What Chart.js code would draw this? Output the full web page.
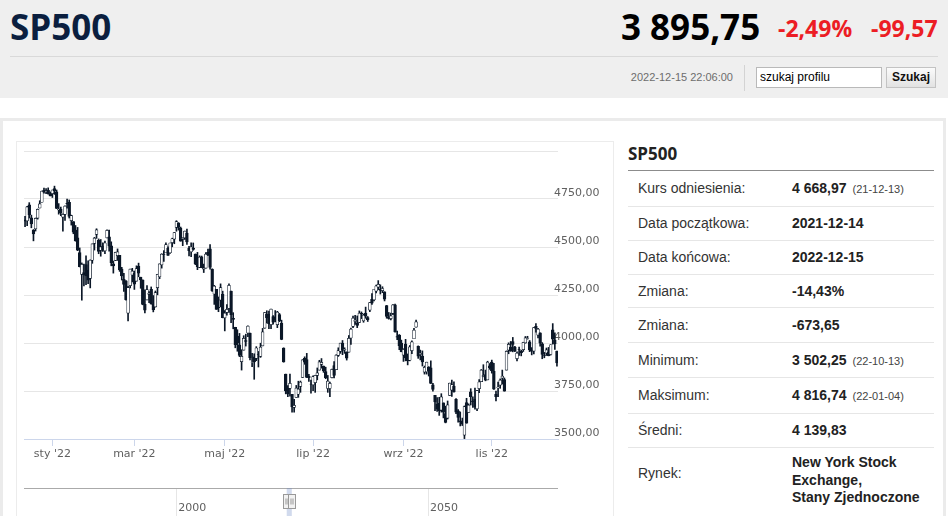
<!DOCTYPE html>
<html lang="pl">
<head>
<meta charset="utf-8">
<title>SP500</title>
<script src="https://cdn.jsdelivr.net/npm/chart.js@4.4.1/dist/chart.umd.min.js"></script>
<style>
  body { margin: 0; width: 948px; height: 516px; overflow: hidden; background: #fff; position: relative;
         font-family: "Liberation Sans", Arial, sans-serif; }
  .abs { position: absolute; }
  #top { left: 0; top: 0; width: 948px; height: 98px; background: #efefef; }
  #title { left: 10px; top: 7px; line-height: 40px; font: 700 35px/40px "Open Sans"; color: #0b1f3f; }
  #hr1 { left: 10px; top: 56px; width: 928px; height: 1px; background: #d9d9d9; }
  #price { left: 621px; top: 7px; font: 700 35px/40px "Open Sans"; color: #000; }
  .chg { top: 13px; font: 700 23px/30px "Open Sans"; color: #ec1d24; }
  #stamp { left: 600px; width: 133px; text-align: right; top: 70px; font-size: 11px; line-height: 14px; color: #6d6d6d; }
  #sep { left: 744px; top: 65px; width: 1px; height: 26px; background: #d3d3d3; }
  #search { left: 756px; top: 67px; width: 121px; height: 19px; border: 1px solid #b9b9b9; background: #fff;
            font-size: 12px; line-height: 19px; padding-left: 3px; color: #000; }
  #btn { left: 886px; top: 67px; width: 48px; height: 19px; border: 1px solid #c3c3c3;
         background: linear-gradient(#fbfbfb, #e2e2e2); font-weight: 700; font-size: 12px; line-height: 19px;
         text-align: center; color: #111; }
  #card { left: 0; top: 118px; width: 940px; height: 400px; border: 3px solid #ebebeb; }
  #panel { left: 16px; top: 141px; width: 596px; height: 380px; border: 1px solid #ececec; }
  #mainWrap { left: 17px; top: 142px; width: 595px; height: 330px; }
  #navWrap { left: 17px; top: 472px; width: 595px; height: 44px; }
  #side { left: 628px; top: 141px; width: 306px; }
  #sideTitle { left: 0; top: 0; font: 700 17px/26px "Open Sans"; color: #222; }
  #sideLine { left: 0; top: 29px; width: 306px; height: 1px; background: #8c8c8c; }
  .row { left: 0; width: 306px; border-bottom: 1px solid #e6e6e6; font-size: 14px; color: #333; }
  .row .lab { position: absolute; left: 10px; }
  .row .val { position: absolute; left: 164px; font-weight: 700; color: #222; }
  .row .note { font-weight: 400; font-size: 11px; color: #444; margin-left: 6px; }
</style>
</head>
<body>
<div id="top" class="abs"></div>
<div id="title" class="abs">SP500</div>
<div id="hr1" class="abs"></div>
<div id="price" class="abs">3 895,75</div>
<div class="abs chg" style="left:778px">-2,49%</div>
<div class="abs chg" style="left:871px">-99,57</div>
<div id="stamp" class="abs">2022-12-15 22:06:00</div>
<div id="sep" class="abs"></div>
<div id="search" class="abs">szukaj profilu</div>
<div id="btn" class="abs">Szukaj</div>

<div id="card" class="abs"></div>
<div id="panel" class="abs"></div>
<div id="mainWrap" class="abs"><canvas id="mainChart"></canvas></div>
<div id="navWrap" class="abs"><canvas id="navChart"></canvas></div>

<div id="side" class="abs">
  <div id="sideTitle" class="abs">SP500</div>
  <div id="sideLine" class="abs"></div>
  <div class="abs row" style="top:30px;height:35px;line-height:35px"><span class="lab">Kurs odniesienia:</span><span class="val">4 668,97<span class="note">(21-12-13)</span></span></div>
  <div class="abs row" style="top:66px;height:33px;line-height:33px"><span class="lab">Data początkowa:</span><span class="val">2021-12-14</span></div>
  <div class="abs row" style="top:100px;height:33px;line-height:33px"><span class="lab">Data końcowa:</span><span class="val">2022-12-15</span></div>
  <div class="abs row" style="top:134px;height:32px;line-height:32px"><span class="lab">Zmiana:</span><span class="val">-14,43%</span></div>
  <div class="abs row" style="top:167px;height:34px;line-height:34px"><span class="lab">Zmiana:</span><span class="val">-673,65</span></div>
  <div class="abs row" style="top:202px;height:34px;line-height:34px"><span class="lab">Minimum:</span><span class="val">3 502,25<span class="note">(22-10-13)</span></span></div>
  <div class="abs row" style="top:237px;height:35px;line-height:35px"><span class="lab">Maksimum:</span><span class="val">4 816,74<span class="note">(22-01-04)</span></span></div>
  <div class="abs row" style="top:273px;height:33px;line-height:33px"><span class="lab">Średni:</span><span class="val">4 139,83</span></div>
  <div class="abs row" style="top:307px;height:60px;border-bottom:none"><span class="lab" style="top:15px;line-height:20px">Rynek:</span><span class="val" style="top:6px;line-height:17.5px">New York Stock<br>Exchange,<br>Stany Zjednoczone</span></div>
</div>

<script>
// trading days (sesje) 2021-12-14 .. 2022-12-15
const tradingDays = [
  '2021-12-14','2021-12-15','2021-12-16','2021-12-17','2021-12-20','2021-12-21','2021-12-22','2021-12-23','2021-12-27','2021-12-28','2021-12-29','2021-12-30','2021-12-31',
  '2022-01-03','2022-01-04','2022-01-05','2022-01-06','2022-01-07','2022-01-10','2022-01-11','2022-01-12','2022-01-13','2022-01-14','2022-01-18','2022-01-19','2022-01-20','2022-01-21','2022-01-24','2022-01-25','2022-01-26','2022-01-27','2022-01-28','2022-01-31',
  '2022-02-01','2022-02-02','2022-02-03','2022-02-04','2022-02-07','2022-02-08','2022-02-09','2022-02-10','2022-02-11','2022-02-14','2022-02-15','2022-02-16','2022-02-17','2022-02-18','2022-02-22','2022-02-23','2022-02-24','2022-02-25','2022-02-28',
  '2022-03-01','2022-03-02','2022-03-03','2022-03-04','2022-03-07','2022-03-08','2022-03-09','2022-03-10','2022-03-11','2022-03-14','2022-03-15','2022-03-16','2022-03-17','2022-03-18','2022-03-21','2022-03-22','2022-03-23','2022-03-24','2022-03-25','2022-03-28','2022-03-29','2022-03-30','2022-03-31',
  '2022-04-01','2022-04-04','2022-04-05','2022-04-06','2022-04-07','2022-04-08','2022-04-11','2022-04-12','2022-04-13','2022-04-14','2022-04-18','2022-04-19','2022-04-20','2022-04-21','2022-04-22','2022-04-25','2022-04-26','2022-04-27','2022-04-28','2022-04-29',
  '2022-05-02','2022-05-03','2022-05-04','2022-05-05','2022-05-06','2022-05-09','2022-05-10','2022-05-11','2022-05-12','2022-05-13','2022-05-16','2022-05-17','2022-05-18','2022-05-19','2022-05-20','2022-05-23','2022-05-24','2022-05-25','2022-05-26','2022-05-27','2022-05-31',
  '2022-06-01','2022-06-02','2022-06-03','2022-06-06','2022-06-07','2022-06-08','2022-06-09','2022-06-10','2022-06-13','2022-06-14','2022-06-15','2022-06-16','2022-06-17','2022-06-21','2022-06-22','2022-06-23','2022-06-24','2022-06-27','2022-06-28','2022-06-29','2022-06-30',
  '2022-07-01','2022-07-05','2022-07-06','2022-07-07','2022-07-08','2022-07-11','2022-07-12','2022-07-13','2022-07-14','2022-07-15','2022-07-18','2022-07-19','2022-07-20','2022-07-21','2022-07-22','2022-07-25','2022-07-26','2022-07-27','2022-07-28','2022-07-29',
  '2022-08-01','2022-08-02','2022-08-03','2022-08-04','2022-08-05','2022-08-08','2022-08-09','2022-08-10','2022-08-11','2022-08-12','2022-08-15','2022-08-16','2022-08-17','2022-08-18','2022-08-19','2022-08-22','2022-08-23','2022-08-24','2022-08-25','2022-08-26','2022-08-29','2022-08-30','2022-08-31',
  '2022-09-01','2022-09-02','2022-09-06','2022-09-07','2022-09-08','2022-09-09','2022-09-12','2022-09-13','2022-09-14','2022-09-15','2022-09-16','2022-09-19','2022-09-20','2022-09-21','2022-09-22','2022-09-23','2022-09-26','2022-09-27','2022-09-28','2022-09-29','2022-09-30',
  '2022-10-03','2022-10-04','2022-10-05','2022-10-06','2022-10-07','2022-10-10','2022-10-11','2022-10-12','2022-10-13','2022-10-14','2022-10-17','2022-10-18','2022-10-19','2022-10-20','2022-10-21','2022-10-24','2022-10-25','2022-10-26','2022-10-27','2022-10-28','2022-10-31',
  '2022-11-01','2022-11-02','2022-11-03','2022-11-04','2022-11-07','2022-11-08','2022-11-09','2022-11-10','2022-11-11','2022-11-14','2022-11-15','2022-11-16','2022-11-17','2022-11-18','2022-11-21','2022-11-22','2022-11-23','2022-11-25','2022-11-28','2022-11-29','2022-11-30',
  '2022-12-01','2022-12-02','2022-12-05','2022-12-06','2022-12-07','2022-12-08','2022-12-09','2022-12-12','2022-12-13','2022-12-14','2022-12-15'
];

const opens = [
  4642,4636,4719,4652,4587,4595,4650,4703,4733,4795,4788,4795,4775,
  4778,4804,4787,4693,4698,4655,4670,4728,4733,4637,4632,4588,4548,4471,4357,4367,4409,4380,4337,4431,
  4519,4566,4535,4482,4505,4480,4547,4553,4506,4412,4430,4455,4456,4385,4332,4324,4156,4299,4354,
  4364,4322,4401,4342,4328,4202,4224,4253,4279,4202,4188,4288,4345,4407,4462,4470,4493,4470,4523,4541,4602,4624,4599,
  4540,4547,4573,4495,4474,4494,4462,4437,4394,4449,4385,4390,4472,4490,4385,4255,4279,4186,4223,4253,
  4131,4159,4181,4271,4129,4081,4035,3991,3903,3963,4013,4052,4052,3900,3928,3920,3942,3930,3985,4077,4151,
  4149,4096,4137,4135,4096,4148,4102,3974,3838,3764,3764,3733,3665,3716,3733,3774,3821,3920,3913,3826,3786,
  3782,3793,3831,3859,3889,3880,3851,3763,3763,3820,3883,3861,3935,3956,4000,3965,3953,3952,4026,4087,
  4112,4104,4107,4154,4115,4156,4133,4171,4227,4225,4270,4291,4281,4273,4267,4195,4134,4127,4154,4199,4034,4041,4000,
  3937,3995,3930,3910,3960,4022,4083,3983,3941,3932,3848,3849,3875,3871,3782,3727,3682,3686,3651,3688,3633,
  3609,3727,3754,3776,3707,3647,3595,3590,3520,3690,3638,3746,3697,3707,3657,3762,3799,3825,3835,3808,3881,
  3901,3853,3733,3767,3780,3817,3810,3859,3963,3978,4007,3977,3919,3966,3956,3965,4001,4024,4006,3964,3958,
  4087,4041,4053,3996,3934,3947,3954,3940,4069,4015,3958
];
const highs = [
  4660,4712,4731,4666,4591,4651,4698,4741,4791,4807,4804,4808,4787,
  4797,4817,4797,4726,4708,4673,4714,4749,4745,4666,4632,4612,4602,4495,4417,4411,4454,4428,4433,4516,
  4550,4595,4542,4539,4522,4531,4590,4588,4527,4427,4473,4490,4456,4394,4363,4325,4295,4385,4389,
  4375,4402,4416,4343,4329,4277,4299,4268,4292,4247,4271,4358,4412,4465,4481,4522,4501,4521,4546,4575,4637,4627,4604,
  4548,4583,4593,4504,4522,4521,4464,4472,4454,4453,4411,4471,4489,4512,4386,4300,4279,4240,4308,4270,
  4169,4200,4308,4271,4158,4082,4069,4050,3965,4038,4046,4090,4052,3946,3944,3981,3956,3999,4076,4158,4168,
  4166,4177,4143,4169,4165,4154,4119,3975,3838,3778,3838,3733,3707,3779,3801,3802,3913,3928,3946,3837,3807,
  3829,3832,3870,3910,3919,3880,3874,3831,3797,3864,3903,3939,3975,3999,4013,3975,3954,4039,4078,4140,
  4144,4141,4167,4162,4151,4187,4138,4211,4258,4280,4302,4325,4303,4293,4267,4196,4159,4156,4200,4203,4062,4044,4015,
  3970,4019,3943,3987,4011,4076,4119,3985,3963,3959,3880,3900,3877,3907,3790,3727,3716,3717,3736,3688,3671,
  3698,3791,3807,3798,3711,3653,3641,3609,3672,3712,3683,3762,3720,3765,3753,3810,3862,3887,3859,3905,3893,
  3911,3894,3750,3796,3813,3859,3818,3959,4001,4008,4029,3983,3954,3979,3962,4004,4034,4035,4013,3976,4080,
  4101,4077,4053,4002,3951,3974,3977,3991,4101,4053,3958
];
const lows = [
  4606,4611,4651,4600,4532,4583,4645,4703,4733,4780,4778,4775,4766,
  4758,4774,4700,4671,4663,4582,4638,4702,4651,4614,4569,4530,4481,4396,4223,4297,4304,4309,4287,4415,
  4484,4545,4465,4452,4477,4465,4547,4478,4402,4364,4429,4430,4373,4328,4268,4223,4115,4287,4318,
  4279,4322,4345,4285,4199,4157,4224,4210,4202,4162,4187,4251,4335,4390,4425,4470,4456,4466,4501,4517,4582,4588,4530,
  4507,4539,4514,4453,4450,4483,4408,4382,4392,4392,4367,4390,4455,4385,4268,4201,4175,4163,4188,4131,
  4063,4145,4159,4106,4074,3975,3957,3929,3859,3963,3984,4033,3912,3877,3811,3908,3875,3925,3985,4077,4104,
  4074,4074,4098,4110,4080,4111,4017,3900,3735,3721,3723,3640,3640,3716,3717,3743,3821,3889,3820,3800,3739,
  3752,3743,3808,3859,3869,3847,3814,3743,3721,3818,3818,3861,3930,3946,3939,3946,3911,3952,3993,4080,
  4097,4080,4107,4127,4108,4129,4112,4163,4201,4219,4261,4278,4255,4262,4219,4129,4124,4120,4147,4057,4017,3965,3954,
  3904,3907,3886,3907,3945,4022,4083,3920,3912,3880,3838,3838,3828,3789,3749,3648,3644,3623,3640,3610,3584,
  3604,3727,3722,3744,3632,3588,3568,3570,3502,3582,3638,3677,3664,3656,3647,3741,3799,3824,3803,3808,3863,
  3843,3758,3698,3721,3764,3786,3749,3859,3944,3957,3954,3955,3907,3935,3933,3956,3999,4020,3955,3938,3943,
  4056,4026,3984,3918,3923,3935,3933,3937,3994,3966,3879
];
const closes = [
  4634,4709,4668,4620,4568,4649,4696,4725,4791,4786,4793,4778,4766,
  4797,4794,4701,4696,4677,4670,4713,4726,4659,4663,4577,4533,4483,4398,4410,4356,4350,4327,4432,4516,
  4546,4589,4477,4501,4484,4521,4587,4504,4419,4401,4472,4475,4380,4349,4305,4226,4288,4385,4374,
  4306,4387,4364,4329,4201,4171,4278,4260,4204,4173,4262,4358,4412,4463,4461,4512,4456,4521,4543,4575,4632,4602,4530,
  4546,4583,4526,4481,4500,4488,4413,4397,4447,4392,4391,4463,4459,4394,4272,4296,4175,4183,4288,4132,
  4155,4175,4300,4147,4123,3991,4001,3935,3930,4024,4008,4088,3923,3901,3901,3974,3941,3979,4058,4158,4132,
  4101,4177,4109,4121,4161,4116,4018,3901,3750,3735,3790,3667,3675,3765,3760,3796,3912,3900,3821,3819,3785,
  3825,3831,3845,3902,3899,3855,3819,3802,3790,3863,3831,3937,3960,3999,3962,3967,3921,4024,4072,4130,
  4119,4091,4155,4152,4145,4140,4122,4210,4207,4280,4297,4305,4274,4284,4228,4138,4128,4141,4199,4058,4031,3986,3955,
  3967,3924,3908,3980,4006,4067,4110,3932,3946,3901,3873,3900,3856,3790,3758,3693,3655,3647,3719,3640,3586,
  3678,3791,3783,3745,3640,3612,3589,3577,3669,3583,3677,3720,3695,3666,3752,3797,3859,3831,3807,3901,3872,
  3856,3759,3720,3771,3807,3828,3749,3957,3993,3957,3992,3959,3947,3965,3950,4003,4027,4026,3964,3958,4080,
  4076,4072,3999,3941,3933,3964,3934,3991,4020,3995,3896
];

// x axis month ticks
const tickDates = ['2022-01-03', '2022-03-01', '2022-05-02', '2022-07-01', '2022-09-01', '2022-11-01'];
const tickLabels = ["sty '22", "mar '22", "maj '22", "lip '22", "wrz '22", "lis '22"];
// y axis
const yTicks = [3500, 3750, 4000, 4250, 4500, 4750, 5000];
// navigator
const navYears = [2000, 2050];
const navRange = [2021.95, 2022.96];

const DARK = '#0b1727';
const AXIS_FONT = { family: 'DejaVu Sans', size: 11 };

const bodies = tradingDays.map((d, i) => [opens[i], closes[i]]);
const wicks = tradingDays.map((d, i) => [lows[i], highs[i]]);
const fills = tradingDays.map((d, i) => closes[i] >= opens[i] ? '#ffffff' : DARK);

const fmtPrice = v => v.toFixed(2).replace('.', ',');

new Chart(document.getElementById('mainChart'), {
  type: 'bar',
  data: {
    labels: tradingDays,
    datasets: [
      { // candle bodies (drawn on top)
        data: bodies,
        backgroundColor: fills,
        borderColor: DARK,
        borderWidth: 0.7,
        borderSkipped: false,
        barThickness: 2.8,
        grouped: false
      },
      { // wicks
        data: wicks,
        backgroundColor: DARK,
        barThickness: 1,
        grouped: false
      }
    ]
  },
  options: {
    responsive: true,
    maintainAspectRatio: false,
    animation: false,
    layout: { padding: { left: 7, top: 9, right: 0, bottom: 0 } },
    plugins: { legend: { display: false }, tooltip: { enabled: false } },
    scales: {
      x: {
        offset: true,
        grid: {
          offset: false,
          drawOnChartArea: false,
          tickLength: 7,
          color: ctx => tickDates.includes(tradingDays[ctx.index]) ? '#ccd6eb' : 'rgba(0,0,0,0)'
        },
        border: { color: '#ccd6eb' },
        ticks: {
          autoSkip: false,
          maxRotation: 0,
          minRotation: 0,
          padding: 2,
          color: '#606060',
          font: AXIS_FONT,
          callback: (v, i) => {
            const k = tickDates.indexOf(tradingDays[i]);
            return k >= 0 ? tickLabels[k] : '';
          }
        },
        afterFit: s => { s.height = 33; }
      },
      y: {
        position: 'right',
        min: 3500,
        max: 5000,
        afterBuildTicks: s => { s.ticks = yTicks.map(v => ({ value: v })); },
        grid: { color: '#e6e6e6', drawTicks: false },
        border: { display: false },
        ticks: {
          padding: -4,
          labelOffset: -6,
          color: '#606060',
          font: AXIS_FONT,
          callback: v => v === 5000 ? '' : fmtPrice(v)
        },
        afterFit: s => {
          s.width = 54;
          // labels start a little inside the plot, so don't clip them to the axis box
          s._computeLabelArea = () => null;
        }
      }
    }
  }
});

// navigator with range handles
const handlePlugin = {
  id: 'navHandles',
  afterDraw(chart) {
    const c = chart.ctx, x = chart.scales.x, top = chart.chartArea.top;
    const x1 = x.getPixelForValue(navRange[0]), x2 = x.getPixelForValue(navRange[1]);
    c.save();
    c.fillStyle = 'rgba(102,133,194,0.3)';
    c.fillRect(x1, top, x2 - x1, chart.height - top);
    [x1, x2].forEach(px => {
      const hx = Math.round(px - 4) + 0.5, hy = top + 6.5;
      c.fillStyle = '#f2f2f2';
      c.strokeStyle = '#999';
      c.lineWidth = 1;
      c.fillRect(hx, hy, 7, 14);
      c.strokeRect(hx, hy, 7, 14);
      c.beginPath();
      c.moveTo(hx + 2.5, hy + 4); c.lineTo(hx + 2.5, hy + 10);
      c.moveTo(hx + 4.5, hy + 4); c.lineTo(hx + 4.5, hy + 10);
      c.stroke();
    });
    c.restore();
  }
};

new Chart(document.getElementById('navChart'), {
  type: 'scatter',
  data: { datasets: [{ data: [] }] },
  plugins: [handlePlugin],
  options: {
    responsive: true,
    maintainAspectRatio: false,
    animation: false,
    layout: { padding: { left: 7, top: 16, right: 54, bottom: 0 } },
    plugins: { legend: { display: false }, tooltip: { enabled: false } },
    scales: {
      x: {
        type: 'linear',
        min: 1969.8,
        max: 2075.8,
        afterBuildTicks: s => { s.ticks = navYears.map(v => ({ value: v })); },
        grid: { color: '#e6e6e6', tickLength: 14 },
        border: { display: false },
        ticks: { padding: -14, labelOffset: 16, color: '#606060', font: AXIS_FONT, callback: v => String(v) },
        afterFit: s => { s.height = 14; }
      },
      y: {
        min: 0,
        max: 1,
        afterBuildTicks: s => { s.ticks = [{ value: 1 }]; },
        grid: { color: '#aaaaaa', drawTicks: false },
        border: { display: false },
        ticks: { display: false },
        afterFit: s => { s.width = 0; }
      }
    }
  }
});
</script>
</body>
</html>
